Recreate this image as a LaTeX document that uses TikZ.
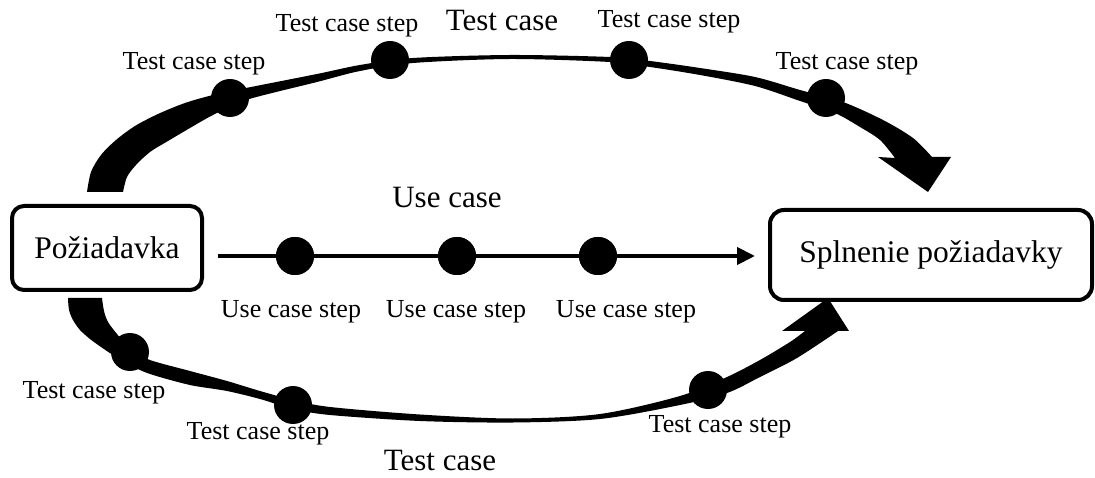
\documentclass[tikz,border=0pt]{standalone}
\usepackage{fontspec}
\setmainfont{Liberation Serif}
\usetikzlibrary{arrows.meta}
\begin{document}
\begin{tikzpicture}[x=1pt,y=-1pt,
  dot/.style={circle,fill=black,inner sep=0pt,minimum size=38pt},
  box/.style={draw,line width=4pt,rounded corners=12pt,inner sep=0pt,font=\fontsize{31.5}{37}\selectfont},
  lbl/.style={anchor=base,inner sep=0pt,font=\fontsize{26}{30}\selectfont},
  big/.style={anchor=base,inner sep=0pt,font=\fontsize{31}{36}\selectfont},
  usearrow/.style={line width=4pt,-{Triangle[length=18pt,width=17pt]}},
  band/.style={fill=black}]
\useasboundingbox (0,0) rectangle (1095,478);

% boxes
\node[box,minimum width=190pt,minimum height=84pt] (L) at (107,248) {Požiadavka};
\node[box,minimum width=322pt,minimum height=90pt,rounded corners=14pt] (R) at (931,255) {Splnenie požiadavky};

% top curved arrow (test case)
\fill[band] plot[smooth] coordinates {(87,192) (91,172) (101,155) (116,140) (135,126) (158,114) (185,103) (213,95) (246,88) (317,74) (360,65) (413,58) (510,55) (610,57) (650,61) (700,68) (755,77) (800,90) (843,102) (883,120) (913,138) (932,157)}
  -- (951,157) -- (928,192) -- (878,157)
  -- plot[smooth] coordinates {(895,158) (880,140) (860,127) (835,113) (800,101) (755,86) (700,75) (650,67) (610,62) (510,59) (413,63) (360,71) (317,82) (246,100) (213,115) (190,128) (168,141) (150,152) (136,165) (127,177) (123,192)}
  -- cycle;

% bottom curved arrow (test case)
\fill[band] plot[smooth] coordinates {(68,298) (69,310) (73,320) (80,330) (90,339) (101,347) (113,355) (130,365) (150,374) (190,385) (227,391) (260,399) (293,409) (330,415) (420,421) (513,422.5) (600,419) (680,405) (727,393) (760,377) (797,358) (838,331)}
  -- (849,331) -- (828,298) -- (782,331)
  -- plot[smooth] coordinates {(805,331) (790,342) (760,360) (727,377) (680,396) (600,414) (513,418.5) (420,414.5) (330,407) (293,400) (260,391) (227,381) (190,371) (150,360) (130,349) (117,334) (108,322) (104,311) (102,298)}
  -- cycle;

% use case dots and arrow
\node[dot] (U1) at (295,256) {};
\node[dot] (U2) at (457,256) {};
\node[dot] (U3) at (598,256) {};
\draw[usearrow,shorten <=14pt,shorten >=13pt] (L.east |- U1) -- (R.west |- U1);
\node[dot] at (U1) {};
\node[dot] at (U2) {};
\node[dot] at (U3) {};

% test case dots
\node[dot] (T1) at (230,98) {};
\node[dot] (T2) at (390,60) {};
\node[dot] (T3) at (629,60) {};
\node[dot] (T4) at (826,98) {};
\node[dot] (B1) at (130,352) {};
\node[dot] (B2) at (293,405) {};
\node[dot] (B3) at (708,390) {};

% labels
\node[big] (uc) at (447,208) {Use case};
\node[lbl] (u1l) at (291,317) {Use case step};
\node[lbl] (u2l) at (456,317) {Use case step};
\node[lbl] (u3l) at (626,317) {Use case step};

\node[big] (tct) at (502,31) {Test case};
\node[lbl] (t1l) at (194,70) {Test case step};
\node[lbl] (t2l) at (347,32) {Test case step};
\node[lbl] (t3l) at (669,28) {Test case step};
\node[lbl] (t4l) at (847,70) {Test case step};

\node[big] (tcb) at (440,470) {Test case};
\node[lbl] (b1l) at (94,398) {Test case step};
\node[lbl] (b2l) at (258,439) {Test case step};
\node[lbl] (b3l) at (720,432) {Test case step};
\end{tikzpicture}
\end{document}
